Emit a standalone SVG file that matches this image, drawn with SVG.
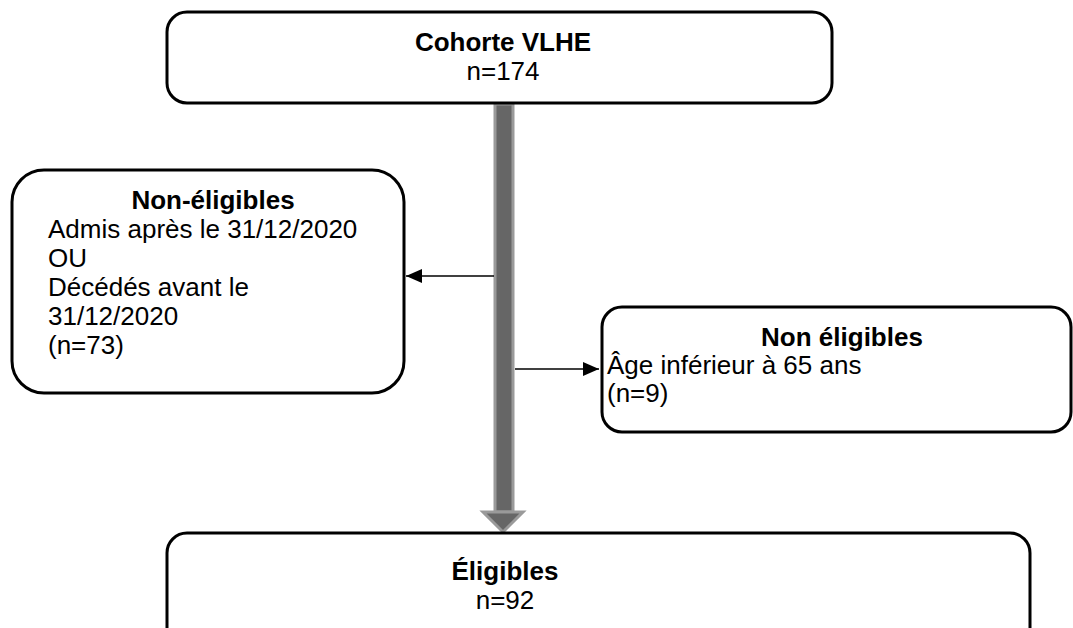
<svg xmlns="http://www.w3.org/2000/svg" width="1073" height="628" viewBox="0 0 1073 628">
  <style>
    .box { fill: #ffffff; stroke: #000000; stroke-width: 3; }
    .t { font-family: "Liberation Sans", Arial, sans-serif; font-size: 26px; fill: #000000; }
    .b { font-weight: bold; }
    .c { text-anchor: middle; }
    .thin { stroke: #000000; stroke-width: 1.3; fill: none; }
    .trunk { fill: #666666; stroke: #9a9a9a; stroke-width: 3; }
  </style>
  <defs>
    <marker id="tip" markerWidth="16" markerHeight="14" refX="16" refY="7" orient="auto" markerUnits="userSpaceOnUse" viewBox="0 0 16 14">
      <path d="M0,0 L16,7 L0,14 Z" fill="#000000"/>
    </marker>
  </defs>

  <!-- connectors: wide grey trunk with its head, and the two side branches -->
  <g id="connectors">
    <rect class="trunk" x="495" y="104" width="18" height="408"/>
    <path class="trunk" d="M483,512 L523,512 L503,532 Z"/>
    <line class="thin" x1="494" y1="276" x2="406" y2="276" marker-end="url(#tip)"/>
    <line class="thin" x1="515" y1="369" x2="599" y2="369" marker-end="url(#tip)"/>
  </g>

  <g id="cohorte">
    <rect class="box" x="167" y="12" width="665" height="91" rx="20"/>
    <text class="t b c" x="503" y="51">Cohorte VLHE</text>
    <text class="t c" x="503" y="80">n=174</text>
  </g>

  <g id="non-eligibles-dates">
    <rect class="box" x="12" y="170" width="392" height="223" rx="32"/>
    <text class="t b c" x="213" y="209">Non-éligibles</text>
    <text class="t" x="48" y="238">Admis après le 31/12/2020</text>
    <text class="t" x="48" y="267">OU</text>
    <text class="t" x="48" y="296">Décédés avant le</text>
    <text class="t" x="48" y="325">31/12/2020</text>
    <text class="t" x="48" y="354">(n=73)</text>
  </g>

  <g id="non-eligibles-age">
    <rect class="box" x="602" y="307" width="469" height="125" rx="20"/>
    <text class="t b c" x="842" y="346">Non éligibles</text>
    <text class="t" x="607" y="374">Âge inférieur à 65 ans</text>
    <text class="t" x="607" y="402">(n=9)</text>
  </g>

  <g id="eligibles">
    <rect class="box" x="167" y="533" width="863" height="120" rx="20"/>
    <text class="t b c" x="505" y="580">Éligibles</text>
    <text class="t c" x="505" y="609">n=92</text>
  </g>
</svg>
